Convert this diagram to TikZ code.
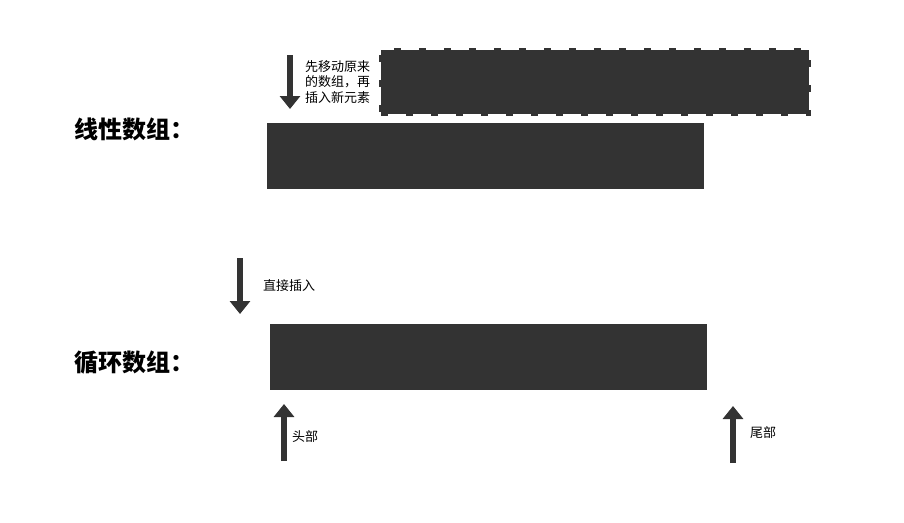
\documentclass[tikz,border=0pt]{standalone}
\usepackage{fontspec}
\usepackage{xcolor}
\setmainfont{Noto Sans CJK SC}
\usetikzlibrary{arrows.meta,positioning}
\definecolor{ink}{HTML}{333333}

\begin{document}
\begin{tikzpicture}[x=1pt, y=-1pt,
    block/.style = {fill=ink, minimum width=437pt, minimum height=66pt, inner sep=0pt},
    moved/.style = {block, draw=ink, line width=4pt, dash pattern=on 7pt off 18pt, minimum width=428pt, minimum height=64pt},
    arr/.style = {draw=ink, line width=6pt, -{Triangle[width=20pt,length=13pt]}},
    note/.style = {font=\fontsize{13}{15.5}\selectfont, align=left, inner sep=0pt},
    title/.style = {font=\fontsize{24}{28}\selectfont\bfseries, anchor=west, inner sep=0pt}]
  \useasboundingbox (0,0) rectangle (904,522);
  % linear array
  \node[title] (lin) at (74,129) {线性数组：};
  \node[block] (arr1) at (485.5,156) {};
  \node[moved] (old) at (595,82) {};
  \coordinate (a1s) at (290,55);
  \coordinate (a1e) at (290,109);
  \draw[arr] (a1s) -- (a1e);
  \node[note, anchor=west] (t1) at (305,82) {先移动原来\\的数组，再\\插入新元素};
  % circular array
  \node[title] (circ) at (74,363) {循环数组：};
  \node[block] (arr2) at (488.5,357) {};
  \coordinate (a2s) at (240,258);
  \coordinate (a2e) at (240,314);
  \draw[arr] (a2s) -- (a2e);
  \node[note, anchor=west] (t2) at (263,286) {直接插入};
  \coordinate (hs) at (284,461);
  \coordinate (he) at (284,404);
  \draw[arr] (hs) -- (he);
  \node[note, anchor=west] (head) at (292,437) {头部};
  \coordinate (ts) at (733,463);
  \coordinate (te) at (733,406);
  \draw[arr] (ts) -- (te);
  \node[note, anchor=west] (tail) at (750,433) {尾部};
\end{tikzpicture}
\end{document}
